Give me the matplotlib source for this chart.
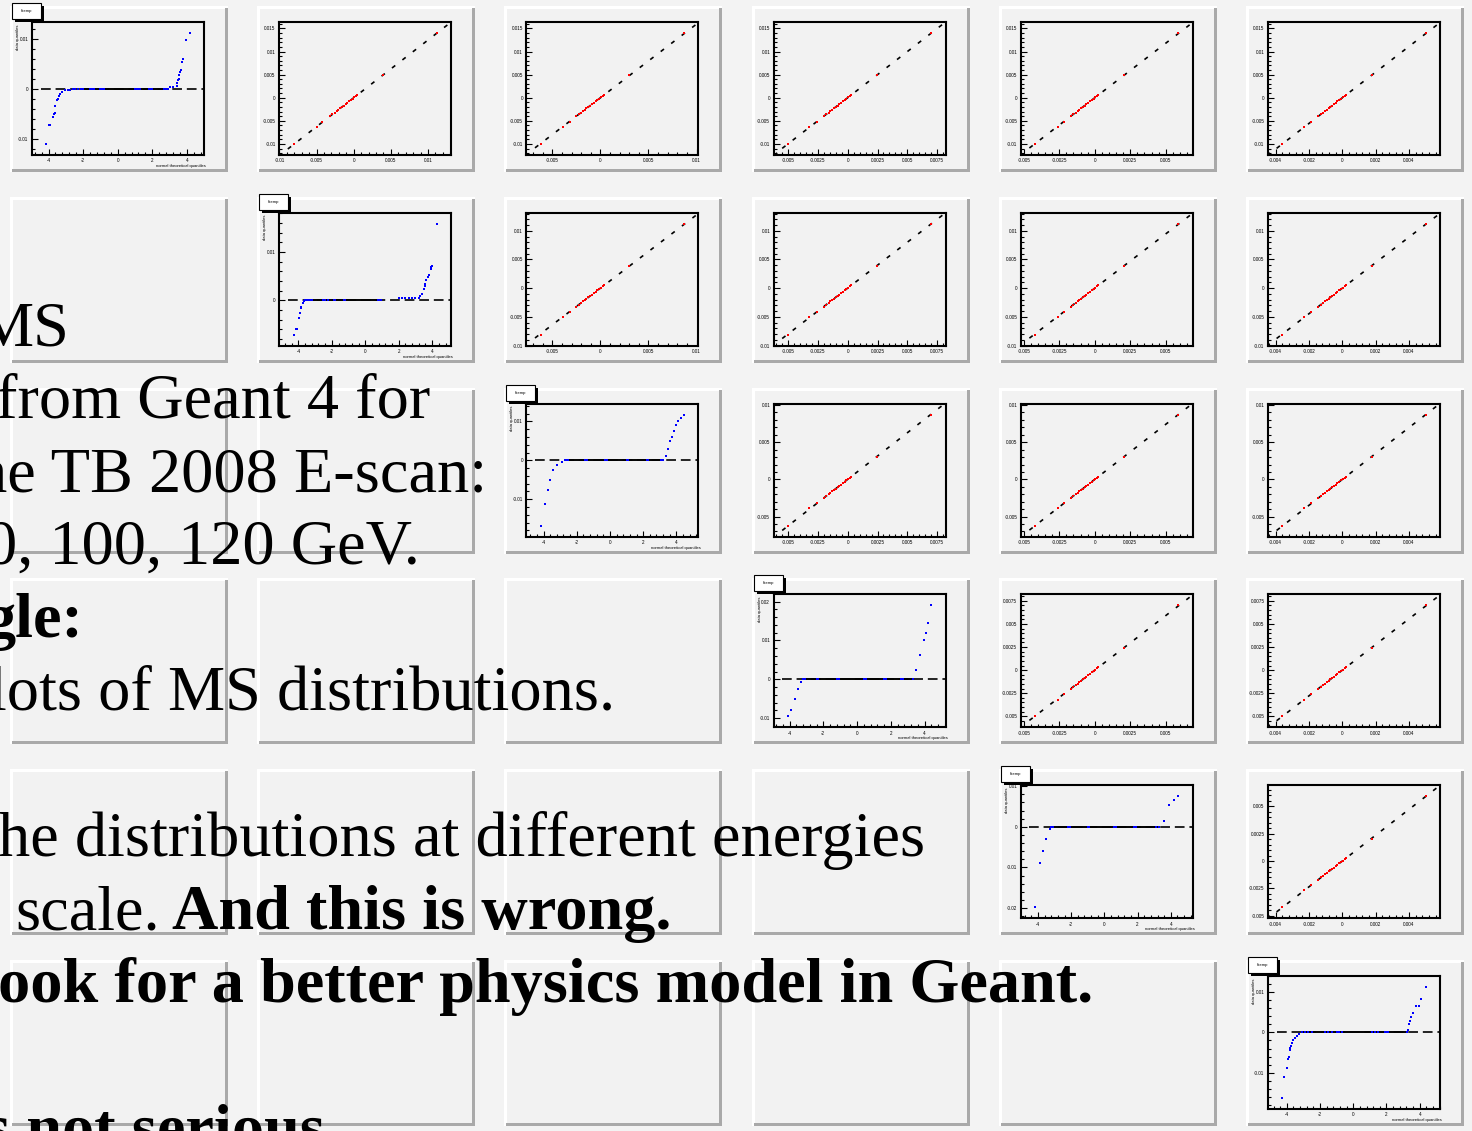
import matplotlib
matplotlib.use("Agg")
import matplotlib.pyplot as plt
import numpy as np
from matplotlib.patches import Rectangle
from matplotlib.ticker import AutoMinorLocator, MaxNLocator, FixedLocator, FuncFormatter

plt.rcParams["lines.scale_dashes"] = False
plt.rcParams["font.family"] = ["Liberation Sans", "DejaVu Sans"]

W, H, DPI = 1472, 1131, 100

# ---------------------------------------------------------------- data ----
# MS angle quantiles (mrad) for the six beam energies (pairwise Q-Q plots)
qq_e0 = [-10.0, -6.3, -5.2, -4.0, -3.6, -3.2, -2.9, -2.6, -2.3, -2.0, -1.7,
         -1.4, -1.1, -0.8, -0.5, -0.2, 0.1, 0.4, 0.6, 4.9, 14.0]
qq_e1 = [-8.1, -5.0, -4.2, -3.2, -2.9, -2.55, -2.3, -2.1, -1.85, -1.6, -1.35,
         -1.1, -0.9, -0.65, -0.4, -0.15, 0.1, 0.3, 0.5, 3.9, 11.2]
qq_e2 = [-6.2, -3.9, -3.2, -2.5, -2.25, -2.0, -1.8, -1.6, -1.45, -1.25, -1.05,
         -0.85, -0.7, -0.5, -0.3, -0.12, 0.05, 0.25, 0.38, 3.0, 8.7]
qq_e3 = [-5.0, -3.2, -2.6, -2.0, -1.8, -1.6, -1.45, -1.3, -1.15, -1.0, -0.85,
         -0.7, -0.55, -0.4, -0.25, -0.1, 0.05, 0.2, 0.3, 2.45, 7.0]
qq_e4 = [-4.2, -2.6, -2.2, -1.7, -1.5, -1.35, -1.2, -1.1, -0.95, -0.85, -0.7,
         -0.6, -0.45, -0.35, -0.2, -0.08, 0.04, 0.17, 0.25, 2.05, 5.9]
qq_e5 = [-3.6, -2.3, -1.9, -1.45, -1.3, -1.15, -1.05, -0.95, -0.82, -0.72, -0.6,
         -0.5, -0.4, -0.3, -0.18, -0.07, 0.04, 0.14, 0.22, 1.75, 5.0]
qq_quantiles = [qq_e0, qq_e1, qq_e2, qq_e3, qq_e4, qq_e5]

# normal Q-Q plots: theoretical quantile (x) vs MS angle (mrad, y)
norm_x_0 = [-4.13, -3.96, -3.92, -3.75, -3.66, -3.62, -3.6, -3.5, -3.46, -3.4,
            -3.33, -3.2, -3.07, -2.9, -2.75, -2.6, -2.45, -2.3, -2.15,
            -2.0, -1.6, -1.5, -1.4, -1.0, -0.9, -0.8, 1.0, 1.1, 1.2, 1.3,
            1.8, 1.9, 2.0, 2.7, 2.8, 2.9,
            3.01, 3.2, 3.4, 3.45, 3.5, 3.53, 3.55, 3.6, 3.64, 3.7, 3.8, 3.93, 4.16]
ms_y_0 = [-11.0, -7.2, -7.2, -5.7, -5.0, -4.8, -3.4, -2.3, -2.1, -1.5,
          -1.1, -0.6, -0.3, -0.2, -0.2, -0.1, -0.1, -0.1, -0.1,
          0, 0, 0, 0, 0, 0, 0, 0, 0, 0, 0,
          0, 0, 0, 0, 0, 0,
          0.33, 0.35, 0.6, 1.2, 1.8, 2.0, 2.8, 3.3, 3.8, 5.3, 6.0, 9.7, 11.1]

norm_x_1 = [-4.29, -4.12, -4.08, -3.95, -3.92, -3.85, -3.82, -3.75, -3.72, -3.68,
            -3.6, -3.5, -3.4, -3.3, -3.2, -2.5, -2.4, -2.2, -1.9, -1.8, -1.3,
            -1.2, 0.75, 0.85, 0.95,
            2.0, 2.2, 2.4, 2.6, 2.8, 3.0, 3.2,
            3.29, 3.4, 3.5, 3.56, 3.6, 3.66, 3.75, 3.78, 3.9, 3.95, 4.0, 4.28]
ms_y_1 = [-7.1, -6.0, -6.0, -3.6, -2.7, -1.5, -1.4, -0.6, -0.5, -0.1,
          0, 0, 0, 0, 0, 0, 0, 0, 0, 0, 0,
          0, 0, 0, 0,
          0.4, 0.4, 0.4, 0.4, 0.4, 0.4, 0.4,
          0.9, 1.4, 2.3, 2.9, 3.4, 4.3, 4.9, 5.2, 6.5, 6.9, 7.2, 15.8]

norm_x_2 = [-4.17, -3.93, -3.75, -3.63, -3.45, -3.2, -2.9,
            -2.7, -2.6, -2.5, -1.5, -1.4, -0.3, -0.2, 1.0, 1.1, 2.2, 2.3, 3.1, 3.2,
            3.4, 3.5, 3.63, 3.75, 3.87, 4.0, 4.1, 4.3, 4.46]
ms_y_2 = [-16.75, -11.25, -7.5, -5.0, -2.5, -1.25, -0.5,
          0, 0, 0, 0, 0, 0, 0, 0, 0, 0, 0, 0, 0,
          1.25, 3.0, 5.0, 6.0, 7.5, 9.0, 10.0, 11.0, 11.75]

norm_x_3 = [-4.1, -3.93, -3.7, -3.5, -3.33,
            -3.2, -3.1, -2.4, -2.3, -1.2, -1.1, 0.4, 0.5, 1.6, 1.7, 2.6, 2.7, 3.3,
            3.5, 3.75, 3.99, 4.1, 4.23, 4.4]
ms_y_3 = [-9.5, -8.0, -5.0, -2.5, -0.75,
          0, 0, 0, 0, 0, 0, 0, 0, 0, 0, 0, 0, 0,
          2.5, 6.25, 10.0, 12.0, 14.5, 19.0]

norm_x_4 = [-4.17, -3.87, -3.69, -3.51, -3.27,
            -3.2, -3.1, -2.2, -2.1, -1.0, -0.9, 0.6, 0.7, 1.8, 1.9, 3.1, 3.27,
            3.57, 3.87, 4.17, 4.46]
ms_y_4 = [-19.75, -9.0, -6.0, -3.0, -0.5,
          0, 0, 0, 0, 0, 0, 0, 0, 0, 0, 0, 0,
          1.5, 5.25, 6.5, 7.5]

norm_x_5 = [-4.27, -4.17, -4.0, -3.9, -3.88, -3.8, -3.78, -3.76, -3.7, -3.6,
            -3.5, -3.4, -3.25,
            -3.1, -2.9, -2.7, -2.5, -1.7, -1.5, -1.3, -1.0, -0.85, -0.7,
            1.1, 1.3, 1.5, 1.9, 2.0, 2.1, 3.25,
            3.29, 3.38, 3.42, 3.5, 3.6, 3.8, 3.95, 4.1, 4.36]
ms_y_5 = [-16.3, -11.2, -8.8, -6.6, -6.2, -4.3, -3.8, -3.25, -2.7, -1.8,
          -1.3, -0.9, -0.5,
          0, 0, 0, 0, 0, 0, 0, 0, 0, 0,
          0, 0, 0, 0, 0, 0, 0,
          0.5, 2.2, 2.75, 3.8, 4.9, 6.6, 6.6, 8.4, 11.3]

norm_x = [norm_x_0, norm_x_1, norm_x_2, norm_x_3, norm_x_4, norm_x_5]
ms_y = [ms_y_0, ms_y_1, ms_y_2, ms_y_3, ms_y_4, ms_y_5]
norm_ticks = [-4, -2, 0, 2, 4]

hist_name = "htemp"
x_title = "normal theoretical quantiles"
y_title = "data quantiles"

slide_text = ["MS", "from Geant 4 for", "he TB 2008 E-scan:", "0, 100, 120 GeV.",
              "gle:", "lots of MS distributions.",
              "he distributions at different energies", "scale.", "And this is wrong.",
              "ook for a better physics model in Geant.", "s not serious"]
slide_bold = [False, False, False, False, True, False, False, False, True, True, True]

# ---------------------------------------------------------------- style ----
CANVAS = "#f3f3f3"
PAD_FILL = "#f2f2f2"
SHADOW = "#a9a9a9"
PAD_W, PAD_H = 218, 166
col_left = [10 + 247.2 * c for c in range(6)]
row_top = [6 + 190.8 * r for r in range(6)]

fig = plt.figure(figsize=(W / DPI, H / DPI), dpi=DPI)
fig.patch.set_facecolor(CANVAS)


def fx(x):
    return x / W


def fy(y):
    return 1 - y / H


def rect(x, y, w, h, color, z, edge="none", lw=0):
    fig.add_artist(Rectangle((fx(x), fy(y + h)), w / W, h / H,
                             transform=fig.transFigure, facecolor=color,
                             edgecolor=edge, linewidth=lw, zorder=z))


def draw_pad(L, T):
    rect(L, T, PAD_W, PAD_H, PAD_FILL, -10)
    rect(L, T, PAD_W, 3, "white", -9)
    rect(L, T, 3, PAD_H, "white", -9)
    rect(L + 2, T + PAD_H - 3, PAD_W - 2, 3, SHADOW, -8)
    rect(L + PAD_W - 3, T + 2, 3, PAD_H - 2, SHADOW, -8)


def padded(v, frac=0.1):
    lo, hi = min(v), max(v)
    d = hi - lo
    return lo - frac * d, hi + frac * d


mrad_fmt = FuncFormatter(lambda v, p: f"{v / 1000:g}")


def make_axes(L, T):
    ax = fig.add_axes([fx(L + 22), fy(T + 149), 172 / W, 133 / H])
    ax.set_facecolor("none")
    for s in ax.spines.values():
        s.set_linewidth(1.5)
    ax.tick_params(which="both", direction="in", top=False, right=False,
                   labelsize=3.3, pad=2.5, width=0.8, colors="black")
    ax.tick_params(which="major", length=4.5)
    ax.tick_params(which="minor", length=2.2)
    return ax


for r in range(6):
    for c in range(6):
        draw_pad(col_left[c], row_top[r])

# diagonal: normal Q-Q plots
for k in range(6):
    L, T = col_left[k], row_top[k]
    xs, ys = norm_x[k], ms_y[k]
    ax = make_axes(L, T)
    ax.set_xlim(padded(xs))
    ax.set_ylim(padded(ys))
    ax.xaxis.set_major_locator(FixedLocator(norm_ticks))
    ax.xaxis.set_minor_locator(AutoMinorLocator(5))
    ax.yaxis.set_major_locator(MaxNLocator(nbins=5, steps=[1, 2, 5, 10]))
    ax.yaxis.set_minor_locator(AutoMinorLocator(5))
    ax.yaxis.set_major_formatter(mrad_fmt)
    ax.xaxis.set_major_formatter(FuncFormatter(lambda v, p: f"{v:g}"))
    zx = [x for x, y in zip(xs, ys) if y == 0]
    ax.plot([min(zx), max(zx)], [0, 0], color="black", lw=1.4, zorder=2)
    x0, x1 = ax.get_xlim()
    ax.plot([x0 + 0.05 * (x1 - x0), x1], [0, 0], color="black", lw=1.2,
            dashes=(7, 3.5), zorder=3, clip_on=True)
    ax.plot(xs, ys, ls="none", marker="s", ms=1.7, mfc="blue", mec="blue",
            mew=0, zorder=4)
    # histogram name box
    rect(L + 5, T, 29, 16, "black", 5)
    rect(L + 2, T - 3, 29, 16, "white", 6, edge="black", lw=0.8)
    fig.text(fx(L + 16.5), fy(T + 5), hist_name, fontsize=3, ha="center",
             va="center", zorder=7)
    fig.text(fx(L + 196), fy(T + 160), x_title, fontsize=3, ha="right",
             va="center", zorder=7)
    fig.text(fx(L + 8), fy(T + 18), y_title, fontsize=3, ha="center",
             va="top", rotation=90, zorder=7)

# upper triangle: pairwise Q-Q plots between energies
for r in range(6):
    for c in range(r + 1, 6):
        L, T = col_left[c], row_top[r]
        xq, yq = qq_quantiles[c], qq_quantiles[r]
        ax = make_axes(L, T)
        ax.set_xlim(padded(xq))
        ax.set_ylim(padded(yq))
        for axis in (ax.xaxis, ax.yaxis):
            axis.set_major_locator(MaxNLocator(nbins=6, steps=[1, 2, 2.5, 5, 10]))
            axis.set_minor_locator(AutoMinorLocator(5))
            axis.set_major_formatter(mrad_fmt)
        q1x, q3x = np.percentile(xq, [25, 75])
        q1y, q3y = np.percentile(yq, [25, 75])
        slope = (q3y - q1y) / (q3x - q1x)
        x0, x1 = ax.get_xlim()
        lx = np.array([x0 + 0.05 * (x1 - x0), x1])
        ax.plot(lx, q1y + slope * (lx - q1x), color="black", lw=1.2,
                dashes=(3, 6.5), zorder=3)
        ax.plot(xq, yq, ls="none", marker="s", ms=1.7, mfc="red", mec="red",
                mew=0, zorder=4)

# slide text laid over the canvas
text_right = [69, 430, 487, 420, 83, 615, 925, 160, 672, 1093, 325]
text_base = [345, 418, 491, 564, 637, 710, 856, 929, 929, 1002, 1148]
for s, b, xr, yb in zip(slide_text, slide_bold, text_right, text_base):
    fig.text(fx(xr), fy(yb), s, fontsize=46.3, ha="right", va="baseline",
             family=["Liberation Serif", "DejaVu Serif"],
             fontweight="bold" if b else "normal", color="black", zorder=20)

fig.savefig("out.png", dpi=DPI, facecolor=fig.get_facecolor())
